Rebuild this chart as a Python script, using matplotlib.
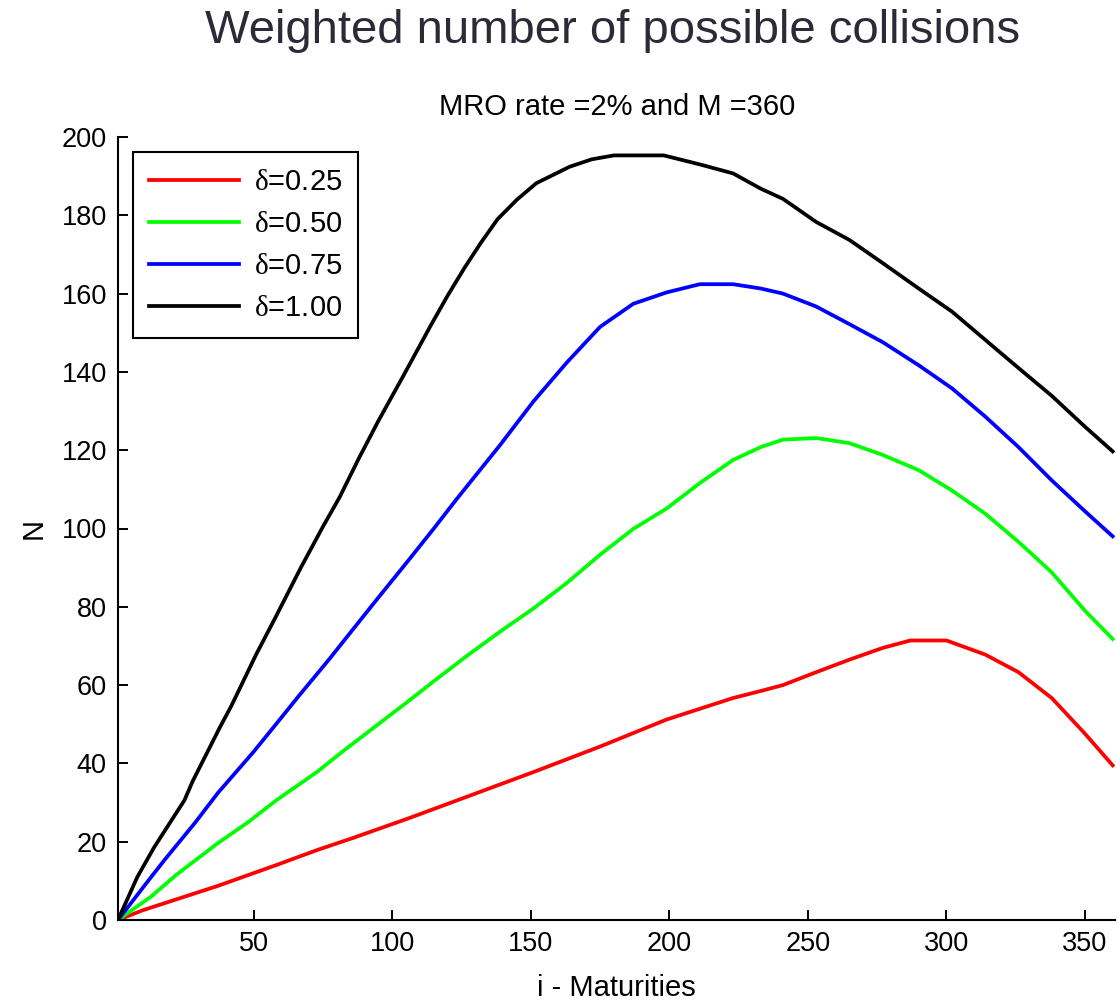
"""Weighted number of possible collisions vs maturity, for four delta levels."""

import matplotlib

matplotlib.use("Agg")
import matplotlib.pyplot as plt

# values
X_RED = [1, 10, 37, 58, 73, 86, 106, 127, 151, 175, 199, 223, 233, 241, 253, 265, 277, 287, 300, 314, 326, 338, 350, 360]
Y_RED = [0, 2.5, 8.7, 14, 17.9, 21, 26, 31.5, 37.8, 44.3, 51.2, 56.7, 58.5, 60, 63.3, 66.5, 69.5, 71.4, 71.4, 67.8, 63.3, 56.7, 47.6, 39.5]

X_GREEN = [1, 13, 22, 37, 48, 58, 73, 82, 94, 106, 115, 127, 139, 151, 163, 175, 187, 199, 211, 223, 233, 241, 253, 265, 277, 290, 302, 314, 326, 338, 350, 360]
Y_GREEN = [0, 6, 11.5, 19.6, 25, 30.5, 37.9, 43, 49.5, 56, 61, 67.5, 73.7, 79.6, 86.1, 93.3, 99.9, 105.1, 111.6, 117.5, 120.8, 122.7, 123.1, 121.8, 118.8, 114.9, 109.7, 103.8, 96.6, 88.8, 79, 71.8]

X_BLUE = [1, 13, 18, 29, 37, 50, 61, 66, 77, 94, 106, 115, 123, 139, 151, 163, 175, 187, 199, 211, 223, 233, 241, 253, 265, 277, 290, 302, 314, 326, 338, 350, 360]
Y_BLUE = [0, 11, 15.5, 25, 32.4, 43, 52.6, 57, 66.4, 81.5, 92, 100, 107.3, 121.4, 132.5, 142.4, 151.5, 157.4, 160.3, 162.4, 162.4, 161.3, 160, 156.7, 152.2, 147.6, 141.7, 135.8, 128.6, 120.8, 112.3, 104.4, 98]

X_BLACK = [1, 8, 14, 25, 28, 38, 42, 51, 58, 67, 75, 81, 88, 95, 104, 114, 120, 126, 132, 138, 145, 152, 164, 172, 180, 198, 211, 223, 233, 241, 253, 265, 277, 290, 302, 314, 326, 338, 350, 360]
Y_BLACK = [0, 11, 18.5, 30.6, 35.5, 49.5, 54.8, 68, 77.5, 90, 100.5, 108, 118, 127.5, 139, 152, 159.5, 166.5, 173, 179, 184, 188.2, 192.4, 194.3, 195.3, 195.3, 193, 190.7, 186.8, 184.2, 178.3, 173.7, 167.8, 161.3, 155.4, 148.2, 141, 133.9, 126, 119.7]

DELTAS = ["0.25", "0.50", "0.75", "1.00"]
COLORS = ["#ff0000", "#00ff00", "#0000ff", "#000000"]
X_TICKS = [50, 100, 150, 200, 250, 300, 350]
Y_TICKS = list(range(0, 201, 20))


def main() -> None:
    plt.rcParams["font.family"] = ["Liberation Sans", "DejaVu Sans"]
    plt.rcParams["mathtext.fontset"] = "custom"
    plt.rcParams["mathtext.rm"] = "Liberation Serif"

    fig = plt.figure(figsize=(11.17, 10.0), dpi=100)
    ax = fig.add_axes([0.1056, 0.08, 0.893, 0.783])

    series = [(X_RED, Y_RED), (X_GREEN, Y_GREEN), (X_BLUE, Y_BLUE), (X_BLACK, Y_BLACK)]
    for (xs, ys), d, c in zip(series, DELTAS, COLORS):
        ax.plot(xs, ys, color=c, lw=2.7, label=r"$\mathrm{\delta}$=" + d)

    ax.set_xlim(1, 361)
    ax.set_ylim(0, 200)
    ax.set_xticks(X_TICKS)
    ax.set_yticks(Y_TICKS)
    ax.tick_params(direction="in", length=7, width=1.4, labelsize=19.5, pad=8)
    for side in ("top", "right"):
        ax.spines[side].set_visible(False)
    for side in ("left", "bottom"):
        ax.spines[side].set_linewidth(1.5)

    ax.set_xlabel("i - Maturities", fontsize=21, labelpad=12)
    ax.set_ylabel("N", fontsize=21, labelpad=10)
    ax.set_title("MRO rate =2% and M =360", fontsize=21, pad=16)
    fig.text(0.548, 0.969, "Weighted number of possible collisions", ha="center", va="center",
             fontsize=34, color="#2b2b38")

    leg = ax.legend(loc="upper left", bbox_to_anchor=(0.015, 0.981), borderaxespad=0,
                    fontsize=21, fancybox=False, edgecolor="black", framealpha=1,
                    handlelength=3.1, handletextpad=0.5, borderpad=0.55, labelspacing=0.48)
    leg.get_frame().set_linewidth(1.5)

    fig.savefig("out.png", dpi=100)


if __name__ == "__main__":
    main()
